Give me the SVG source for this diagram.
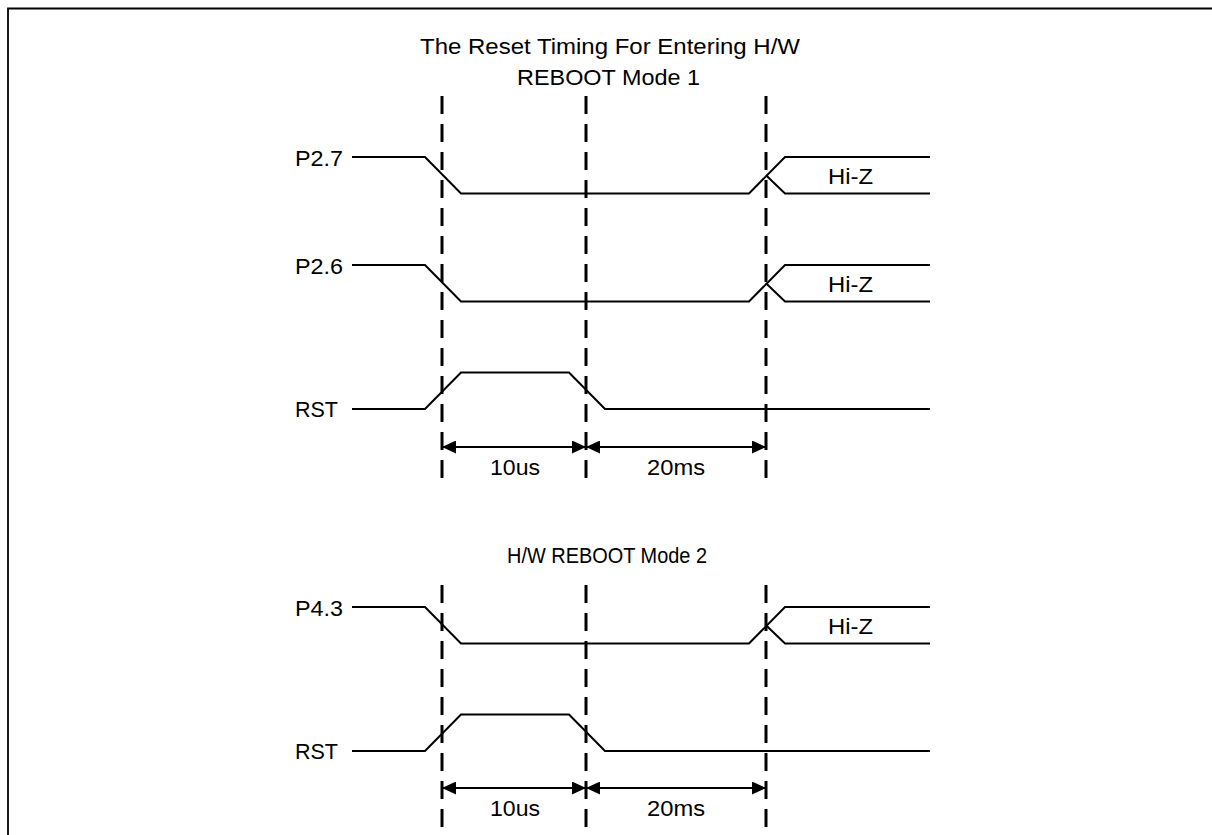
<svg xmlns="http://www.w3.org/2000/svg" width="1212" height="835" viewBox="0 0 1212 835">
<style>
text{font-family:"Liberation Sans",Arial,sans-serif;font-size:21.5px;fill:#000}
.sig{fill:none;stroke:#000;stroke-width:2}
.dash{fill:none;stroke:#000;stroke-width:3;stroke-dasharray:18 10}
.dim{fill:none;stroke:#000;stroke-width:2}
.frame{fill:none;stroke:#000;stroke-width:1.8}
</style>
<defs>
<marker id="ah" viewBox="0 0 14 13" refX="14" refY="6.5" markerWidth="14" markerHeight="13" markerUnits="userSpaceOnUse" orient="auto-start-reverse">
<path d="M0,0 L14,6.5 L0,13 Z" fill="#000"/>
</marker>
</defs>
<path class="frame" d="M8,835 V8.5 H1212"/>
<g id="titles">
<text x="420" y="54" textLength="380" lengthAdjust="spacingAndGlyphs">The Reset Timing For Entering H/W</text>
<text x="517" y="85" textLength="183" lengthAdjust="spacingAndGlyphs">REBOOT Mode 1</text>
<text x="507" y="563" textLength="200" lengthAdjust="spacingAndGlyphs">H/W REBOOT Mode 2</text>
</g>
<g id="connectors">
<line class="dash" x1="442" y1="96" x2="442" y2="482"/>
<line class="dash" x1="586" y1="96" x2="586" y2="482"/>
<line class="dash" x1="766" y1="96" x2="766" y2="482"/>
<line class="dash" x1="442" y1="585" x2="442" y2="835"/>
<line class="dash" x1="586" y1="585" x2="586" y2="835"/>
<line class="dash" x1="766" y1="585" x2="766" y2="835"/>
<line class="dim" x1="442" y1="447" x2="586" y2="447" marker-start="url(#ah)" marker-end="url(#ah)"/>
<line class="dim" x1="586" y1="447" x2="766" y2="447" marker-start="url(#ah)" marker-end="url(#ah)"/>
<line class="dim" x1="442" y1="788" x2="586" y2="788" marker-start="url(#ah)" marker-end="url(#ah)"/>
<line class="dim" x1="586" y1="788" x2="766" y2="788" marker-start="url(#ah)" marker-end="url(#ah)"/>
</g>
<g id="p27">
<text x="295" y="165.5" textLength="48" lengthAdjust="spacingAndGlyphs">P2.7</text>
<path class="sig" d="M352,157 H425 L461,193.5 H749 L785,157 H930"/>
<path class="sig" d="M766,175.25 L785,193.5 H930"/>
<text x="828" y="184" textLength="45" lengthAdjust="spacingAndGlyphs">Hi-Z</text>
</g>
<g id="p26">
<text x="295" y="273.5" textLength="48" lengthAdjust="spacingAndGlyphs">P2.6</text>
<path class="sig" d="M352,265 H425 L461,301.5 H749 L785,265 H930"/>
<path class="sig" d="M766,283.25 L785,301.5 H930"/>
<text x="828" y="292" textLength="45" lengthAdjust="spacingAndGlyphs">Hi-Z</text>
</g>
<g id="rst1">
<text x="295" y="417" textLength="43" lengthAdjust="spacingAndGlyphs">RST</text>
<path class="sig" d="M352,409 H425 L461,372.5 H569 L605,409 H930"/>
</g>
<g id="t10us1"><text x="490" y="475" textLength="50" lengthAdjust="spacingAndGlyphs">10us</text></g>
<g id="t20ms1"><text x="647" y="475" textLength="58" lengthAdjust="spacingAndGlyphs">20ms</text></g>
<g id="p43">
<text x="295" y="615.5" textLength="48" lengthAdjust="spacingAndGlyphs">P4.3</text>
<path class="sig" d="M352,607 H425 L461,643.5 H749 L785,607 H930"/>
<path class="sig" d="M766,625.25 L785,643.5 H930"/>
<text x="828" y="634" textLength="45" lengthAdjust="spacingAndGlyphs">Hi-Z</text>
</g>
<g id="rst2">
<text x="295" y="759" textLength="43" lengthAdjust="spacingAndGlyphs">RST</text>
<path class="sig" d="M352,751 H425 L461,714.5 H569 L605,751 H930"/>
</g>
<g id="t10us2"><text x="490" y="816" textLength="50" lengthAdjust="spacingAndGlyphs">10us</text></g>
<g id="t20ms2"><text x="647" y="816" textLength="58" lengthAdjust="spacingAndGlyphs">20ms</text></g>
</svg>
